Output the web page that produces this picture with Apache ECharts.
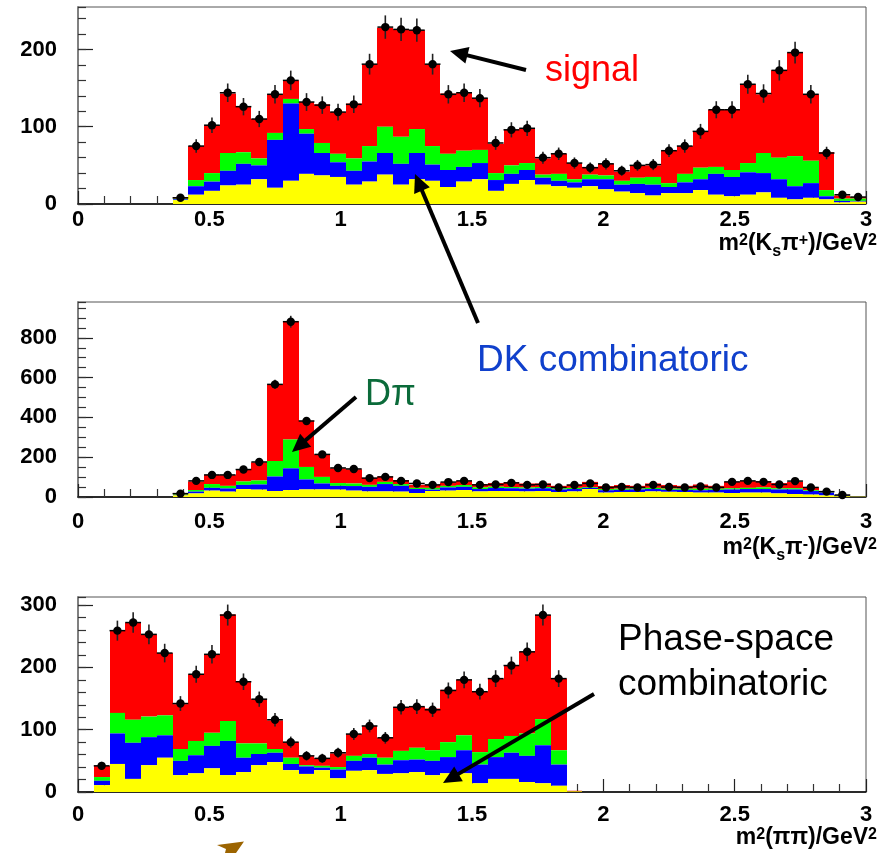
<!DOCTYPE html>
<html><head><meta charset="utf-8">
<script src="https://cdn.jsdelivr.net/npm/echarts@6/dist/echarts.min.js"></script>
<style>html,body{margin:0;padding:0;background:#fff}#c{width:882px;height:853px}</style>
</head><body><div id="c"></div>
<script>
// ---------------- DATA ----------------
const binWidth = 0.06;
const xTickLabels = ['0', '0.5', '1', '1.5', '2', '2.5', '3'];

// Panel 1: m2(Ks pi+), first bin index 6 (0.36 GeV^2); cumulative stack tops
const p1Start = 6;
const p1YellowTop = [5,12,17,24,25,32,21,30,39,37, 35,25,29,38,25,32,30,22,29,32, 17,26,31,25,23,21,23,19,16,14, 11,14,14,18,12,10,12,15,8,6, 8,6,2,3];
const p1BlueTop   = [6,23,29,43,52,50,83,130,91,66, 54,43,55,66,52,66,51,44,48,53, 31,39,44,34,30,28,32,32,25,26, 25,22,28,32,39,35,41,40,32,23, 27,10,4,4];
const p1GreenTop  = [7,31,40,66,67,59,92,136,97,79, 65,59,75,100,87,97,75,65,69,70, 40,50,53,38,39,32,38,37,30,34, 35,27,39,47,48,44,53,66,60,62, 56,18,7,7];
const p1Total     = [9,75,102,143,126,110,142,160,132,129, 119,130,181,228,226,225,181,143,144,137, 78,96,98,59,65,53,48,52,42,50, 50,69,75,94,122,122,155,142,173,196, 142,67,11,9];
const p1Data      = [8,75,102,144,126,110,142,160,132,128, 119,129,181,229,226,225,181,142,144,137, 79,96,98,60,65,53,47,52,43,50, 51,69,75,94,122,122,155,143,173,196, 142,66,12,9];

// Panel 2: m2(Ks pi-), first bin index 6
const p2Start = 6;
const p2YellowTop = [8,18,32,27,40,37,30,35,38,38, 37,32,28,28,27,20,30,32,35,28, 30,30,28,30,25,28,40,22,25,25, 28,26,25,22,22,20,22,22,18,15, 12,8,4,2];
const p2BlueTop   = [10,27,46,43,61,63,103,144,88,68, 56,55,51,65,56,40,37,48,51,40, 45,44,42,44,38,40,46,34,36,38, 40,36,36,34,36,38,40,40,38,38, 30,22,8,3];
const p2GreenTop  = [13,35,65,56,78,83,181,289,151,101, 70,68,61,76,65,46,46,56,60,48, 52,50,48,50,44,46,50,40,42,43, 46,42,42,42,42,44,46,48,44,44, 34,24,9,3];
const p2Total     = [17,78,111,110,139,174,566,883,383,214, 144,139,96,103,85,61,61,73,80,65, 70,75,68,68,56,62,76,55,60,56, 68,60,56,63,56,76,80,80,70,76, 48,27,10,3];
const p2Data      = [17,81,111,111,138,176,566,881,382,214, 146,141,95,101,81,68,61,75,81,61, 63,71,61,63,48,60,68,48,51,48, 61,50,48,53,48,76,81,76,63,80, 48,27,10,null];

// Panel 3: m2(pi pi), first bin index 1
const p3Start = 1;
const p3YellowTop = [11,45,21,43,55,27,30,38,27,32, 43,48,35,29,35,22,34,35,29,30, 32,27,30,30,14,21,21,16,14,10, 1];
const p3BlueTop   = [18,94,79,88,91,50,59,74,82,55, 61,63,45,41,39,36,50,55,44,51, 52,50,56,67,44,56,63,58,75,44, 1];
const p3GreenTop  = [24,127,116,121,123,69,82,95,114,78, 78,69,55,43,42,40,58,61,55,66, 71,67,80,91,64,85,90,94,117,67, 1];
const p3Total     = [42,259,272,253,223,141,189,221,285,177, 149,115,80,58,54,62,93,106,87,136, 137,134,164,180,161,182,203,225,284,182, 2];
const p3Data      = [42,259,272,253,223,142,189,221,284,177, 149,116,80,58,54,63,93,106,87,136, 137,132,163,180,161,182,203,225,284,182, null];

// ---------------- CHART ----------------
const FONT = "'Liberation Sans', Arial, Helvetica, sans-serif";
const COL = { yellow: '#ffff00', blue: '#0000ff', green: '#00ff00', red: '#ff0000' };

const panels = [
  { start: p1Start, y: p1YellowTop, b: p1BlueTop, g: p1GreenTop, t: p1Total, d: p1Data,
    top: 7, height: 197, ymax: 255, major: 100, minor: 20, labelMargin: 5 },
  { start: p2Start, y: p2YellowTop, b: p2BlueTop, g: p2GreenTop, t: p2Total, d: p2Data,
    top: 302, height: 195, ymax: 980, major: 200, minor: 50, labelMargin: 14 },
  { start: p3Start, y: p3YellowTop, b: p3BlueTop, g: p3GreenTop, t: p3Total, d: p3Data,
    top: 597, height: 195, ymax: 313, major: 100, minor: 20, labelMargin: 12 }
];

const grids = [], xAxes = [], yAxes = [], series = [];

function stackSeries(gi, start, lo, hi, color) {
  const data = hi.map((v, i) => [(start + i) * binWidth, (start + i + 1) * binWidth, lo ? lo[i] : 0, v]);
  return {
    type: 'custom', xAxisIndex: gi, yAxisIndex: gi * 2, data: data, silent: true,
    encode: { x: [0, 1], y: [2, 3] }, clip: true,
    renderItem: function (params, api) {
      const p0 = api.coord([api.value(0), api.value(2)]);
      const p1 = api.coord([api.value(1), api.value(3)]);
      const x0 = Math.round(p0[0]), x1 = Math.round(p1[0]);
      const h = p0[1] - p1[1];
      if (h <= 0) return null;
      return { type: 'rect', shape: { x: x0, y: p1[1], width: x1 - x0, height: h },
               style: { fill: color } };
    }
  };
}

function dataSeries(gi, start, vals) {
  const data = vals.map((v, i) => [(start + i) * binWidth, (start + i + 1) * binWidth, v == null ? NaN : v]);
  return {
    type: 'custom', xAxisIndex: gi, yAxisIndex: gi * 2, data: data, silent: true, z: 5,
    encode: { x: [0, 1], y: 2 },
    renderItem: function (params, api) {
      const v = api.value(2);
      if (isNaN(v)) return null;
      const x0 = api.value(0), x1 = api.value(1), xc = (x0 + x1) / 2;
      const e = Math.sqrt(v);
      const pl = api.coord([x0, v]), pr = api.coord([x1, v]);
      const pc = api.coord([xc, v]);
      const pt = api.coord([xc, v + e]), pb = api.coord([xc, Math.max(0, v - e)]);
      return { type: 'group', children: [
        { type: 'line', shape: { x1: pl[0], y1: pl[1], x2: pr[0], y2: pr[1] }, style: { stroke: '#000', lineWidth: 1.5 } },
        { type: 'line', shape: { x1: pc[0], y1: pt[1], x2: pc[0], y2: pb[1] }, style: { stroke: '#222', lineWidth: 1.6 } },
        { type: 'circle', shape: { cx: pc[0], cy: pc[1], r: 4.2 }, style: { fill: '#000' } }
      ]};
    }
  };
}

panels.forEach((p, gi) => {
  grids.push({ left: 78, width: 788, top: p.top, height: p.height, show: true,
               borderColor: '#555', borderWidth: 1, backgroundColor: '#fff' });
  xAxes.push({
    gridIndex: gi, type: 'value', min: 0, max: 3, interval: 0.5,
    axisLine: { show: true, onZero: false, lineStyle: { color: '#000', width: 1.5 } },
    axisTick: { show: true, inside: true, length: 13, lineStyle: { color: '#222', width: 1.2 } },
    minorTick: { show: true, splitNumber: 5, length: 8, lineStyle: { color: '#333', width: 1.2 } },
    splitLine: { show: false }, minorSplitLine: { show: false },
    axisLabel: { margin: p.labelMargin, fontSize: 22, fontWeight: 'bold', color: '#000', fontFamily: FONT,
                 formatter: (v) => xTickLabels[Math.round(v / 0.5)] }
  });
  yAxes.push({
    gridIndex: gi, type: 'value', position: 'left', min: 0, max: p.ymax, interval: p.major,
    axisLine: { show: true, onZero: false, lineStyle: { color: '#808080', width: 2 } },
    axisTick: { show: true, inside: true, length: 15, lineStyle: { color: '#222', width: 1.2 } },
    splitLine: { show: false },
    axisLabel: { margin: 21, fontSize: 22, fontWeight: 'bold', color: '#000', fontFamily: FONT, showMaxLabel: false }
  });
  yAxes.push({
    gridIndex: gi, type: 'value', position: 'left', offset: 0, min: 0, max: p.ymax, interval: p.minor,
    axisLine: { show: false },
    axisTick: { show: true, inside: true, length: 8, lineStyle: { color: '#333', width: 1.2 } },
    splitLine: { show: false }, axisLabel: { show: false }
  });
  series.push(stackSeries(gi, p.start, p.g, p.t, COL.red));
  series.push(stackSeries(gi, p.start, p.b, p.g, COL.green));
  series.push(stackSeries(gi, p.start, p.y, p.b, COL.blue));
  series.push(stackSeries(gi, p.start, null, p.y, COL.yellow));
  series.push(dataSeries(gi, p.start, p.d));
});

// ---------------- ANNOTATIONS ----------------
function arrow(x1, y1, x2, y2) {
  const L = 18, W = 8.5;
  const dx = x2 - x1, dy = y2 - y1, len = Math.hypot(dx, dy);
  const ux = dx / len, uy = dy / len;
  const bx = x2 - ux * L, by = y2 - uy * L;
  return [
    { type: 'line', z: 100, shape: { x1: x1, y1: y1, x2: bx + ux * 2, y2: by + uy * 2 }, style: { stroke: '#000', lineWidth: 4 } },
    { type: 'polygon', z: 100, shape: { points: [[x2, y2], [bx - uy * W, by + ux * W], [bx + uy * W, by - ux * W]] }, style: { fill: '#000' } }
  ];
}
function label(text, x, y, size, color) {
  return { type: 'text', z: 100, x: x, y: y,
           style: { text: text, font: size + 'px ' + FONT, fill: color, align: 'left', verticalAlign: 'middle' } };
}
function axisTitle(rich, right, y) {
  return { type: 'text', z: 100, x: right, y: y,
           style: { text: rich, align: 'right', verticalAlign: 'middle', fill: '#000',
             rich: {
               n: { fontSize: 23, fontWeight: 'bold', fontFamily: FONT, fill: '#000', verticalAlign: 'bottom' },
               s: { fontSize: 16, fontWeight: 'bold', fontFamily: FONT, fill: '#000', verticalAlign: 'top', padding: [0, 0, 4, 0] },
               b: { fontSize: 16, fontWeight: 'bold', fontFamily: FONT, fill: '#000', verticalAlign: 'bottom', padding: [0, 0, -4, 0] }
             } } };
}

const graphics = [].concat(
  arrow(526, 70, 450, 51),
  arrow(478, 323, 415, 174),
  arrow(356, 397, 292, 452),
  arrow(594, 694, 443, 783),
  [
    label('signal', 545, 71, 36, '#ff0000'),
    label('DK combinatoric', 477, 361, 37, '#1040cc'),
    label('D\u03c0', 365, 395, 36, '#0b6b3a'),
    label('Phase-space', 618, 640, 37, '#000'),
    label('combinatoric', 618, 685, 37, '#000'),
    axisTitle('{n|m}{s|2}{n|(K}{b|s}{n|\u03c0}{s|+}{n|)/GeV}{s|2}', 877, 244),
    axisTitle('{n|m}{s|2}{n|(K}{b|s}{n|\u03c0}{s|-}{n|)/GeV}{s|2}', 877, 548),
    axisTitle('{n|m}{s|2}{n|(\u03c0\u03c0)/GeV}{s|2}', 877, 838),
    { type: 'polygon', z: 100, shape: { points: [[217, 845], [244, 841.5], [236, 853], [225, 853], [226, 849]] },
      style: { fill: '#9c6400' } }
  ]
);

const chart = echarts.init(document.getElementById('c'), null, { renderer: 'canvas' });
chart.setOption({
  animation: false,
  backgroundColor: '#fff',
  grid: grids, xAxis: xAxes, yAxis: yAxes, series: series,
  graphic: { elements: graphics }
});
</script>
</body></html>
